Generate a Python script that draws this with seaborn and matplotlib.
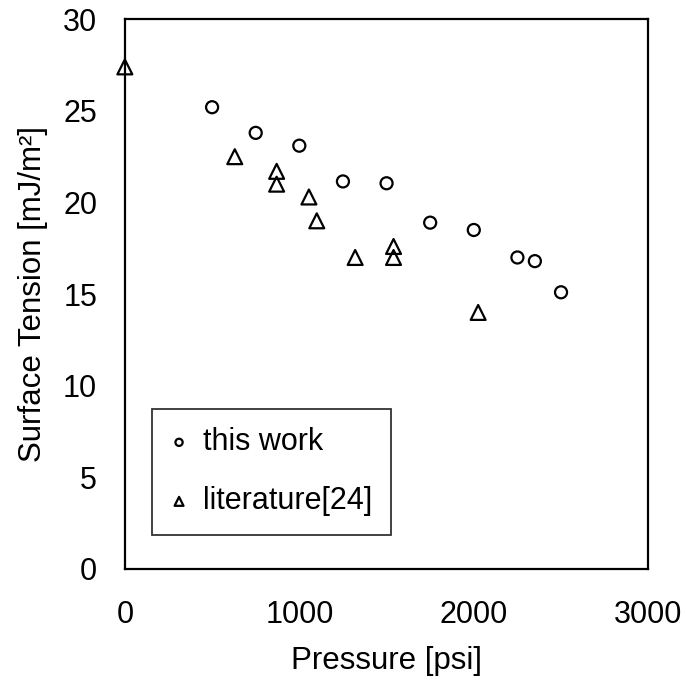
import matplotlib
matplotlib.use("Agg")
import matplotlib.pyplot as plt
import seaborn as sns
import pandas as pd

# this work
work_p = [500, 750, 1000, 1250, 1500, 1750, 2000, 2250, 2350, 2500]
work_st = [25.2, 23.8, 23.1, 21.15, 21.05, 18.9, 18.5, 17.0, 16.8, 15.1]

# literature [24]
lit_p = [0, 630, 870, 870, 1055, 1100, 1320, 1540, 1540, 2025]
lit_st = [27.4, 22.5, 21.7, 21.0, 20.3, 19.0, 17.0, 17.6, 17.0, 14.0]

x_ticks = [0, 1000, 2000, 3000]
y_ticks = [0, 5, 10, 15, 20, 25, 30]

df_work = pd.DataFrame({"p": work_p, "st": work_st})
df_lit = pd.DataFrame({"p": lit_p, "st": lit_st})

sns.set_style("white")
plt.rcParams["font.family"] = ["Liberation Sans", "DejaVu Sans"]
plt.rcParams["text.color"] = "black"
plt.rcParams["axes.labelcolor"] = "black"

fig = plt.figure(figsize=(6.86, 6.88), dpi=100)
ax = fig.add_axes([0.182, 0.173, 0.763, 0.799])

sns.scatterplot(data=df_work, x="p", y="st", marker="o", s=75,
                facecolors="none", edgecolors="black", linewidth=1.6,
                label="this work", ax=ax, clip_on=False, zorder=3)
sns.scatterplot(data=df_lit, x="p", y="st", marker="^", s=115,
                facecolors="none", edgecolors="black", linewidth=1.6,
                label="literature[24]", ax=ax, clip_on=False, zorder=3)

ax.set_xlim(0, 3000)
ax.set_ylim(0, 30)
ax.set_xticks(x_ticks)
ax.set_yticks(y_ticks)
ax.tick_params(direction="in", length=7, width=1.3, colors="black",
               labelsize=22, pad=20)
ax.tick_params(axis="x", pad=22)
for s in ax.spines.values():
    s.set_color("black")
    s.set_linewidth(1.6)

ax.set_xlabel("Pressure [psi]", fontsize=22.5, labelpad=12)
ax.set_ylabel("Surface Tension [mJ/m²]", fontsize=22.5, labelpad=11)

leg = ax.legend(loc="upper left", bbox_to_anchor=(0.051, 0.291),
                fontsize=22, frameon=True, fancybox=False, edgecolor="black",
                labelspacing=0.95, handlelength=0.6, handletextpad=0.5,
                borderpad=0.6, borderaxespad=0, markerscale=0.6)
leg.get_frame().set_linewidth(1.3)

fig.savefig("out.png", dpi=100)
